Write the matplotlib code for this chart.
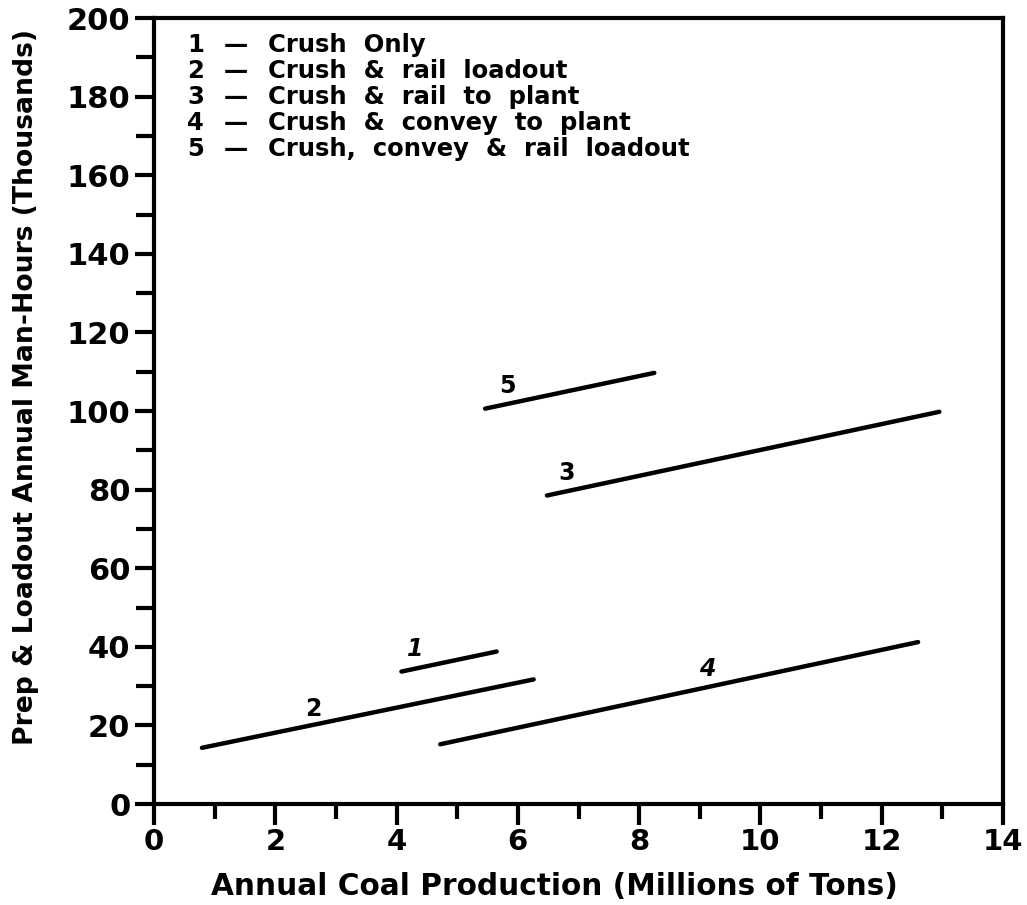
import matplotlib
matplotlib.use("Agg")
import matplotlib.pyplot as plt
from matplotlib.ticker import MultipleLocator

# Labour estimates for each crushing / loadout arrangement
series_ids = ["1", "2", "3", "4", "5"]
series_names = [
    "Crush  Only",
    "Crush  &  rail  loadout",
    "Crush  &  rail  to  plant",
    "Crush  &  convey  to  plant",
    "Crush,  convey  &  rail  loadout",
]
# (start, end) production in millions of tons
prod_x = [
    [4.08, 5.65],
    [0.79, 6.26],
    [6.48, 12.95],
    [4.72, 12.60],
    [5.46, 8.25],
]
# (start, end) man-hours in thousands
hours_y = [
    [33.7, 38.8],
    [14.3, 31.7],
    [78.5, 99.8],
    [15.2, 41.2],
    [100.6, 109.7],
]
# where each curve number is written
label_x = [4.30, 2.62, 6.81, 9.12, 5.83]
label_y = [39.5, 24.2, 84.3, 34.4, 106.3]

x_ticks = [0, 2, 4, 6, 8, 10, 12, 14]
y_ticks = [0, 20, 40, 60, 80, 100, 120, 140, 160, 180, 200]

plt.rcParams["font.family"] = ["DejaVu Sans"]
plt.rcParams["font.weight"] = "bold"

fig = plt.figure(figsize=(10.27, 9.05), dpi=100)
ax = fig.add_axes([0.150, 0.1116, 0.8266, 0.8685])

for xs, ys in zip(prod_x, hours_y):
    ax.plot(xs, ys, color="black", lw=3.2, solid_capstyle="round")

for sid, lx, ly in zip(series_ids, label_x, label_y):
    ax.text(lx, ly, sid, fontsize=17, fontweight="bold", ha="center", va="center",
            style="italic" if sid in ("1", "4") else "normal")

ax.set_xlim(0, 14)
ax.set_ylim(0, 200)
ax.set_xticks(x_ticks)
ax.set_yticks(y_ticks)
ax.xaxis.set_minor_locator(MultipleLocator(1))
ax.yaxis.set_minor_locator(MultipleLocator(10))

ax.tick_params(axis="x", which="major", direction="out", length=15, width=3,
               labelsize=21, pad=2)
ax.tick_params(axis="x", which="minor", direction="out", length=11, width=3)
ax.tick_params(axis="y", which="major", direction="out", length=14, width=3,
               labelsize=22, pad=3)
ax.tick_params(axis="y", which="minor", direction="out", length=13, width=3)
for lab in ax.get_xticklabels() + ax.get_yticklabels():
    lab.set_fontweight("bold")

for sp in ax.spines.values():
    sp.set_linewidth(3)

ax.set_xlabel("Annual Coal Production (Millions of Tons)", fontsize=21.3,
              fontweight="bold")
ax.set_ylabel("Prep & Loadout Annual Man-Hours (Thousands)", fontsize=19.2,
              fontweight="bold")
ax.xaxis.set_label_coords(0.472, -0.086)
ax.yaxis.set_label_coords(-0.135, 0.53)

# Key in the upper-left corner: number, dash and description columns
for i, (sid, name) in enumerate(zip(series_ids, series_names)):
    y = 1 - (45 - 18 + 26 * i) / 785
    ax.text(0.049, y, sid, transform=ax.transAxes, fontsize=17.5,
            fontweight="bold", va="center", ha="center")
    ax.text(0.096, y, "\u2014", transform=ax.transAxes, fontsize=17.5,
            fontweight="bold", va="center", ha="center")
    ax.text(0.134, y, name, transform=ax.transAxes, fontsize=17.5,
            fontweight="bold", va="center", ha="left")

fig.savefig("out.png", dpi=100)
